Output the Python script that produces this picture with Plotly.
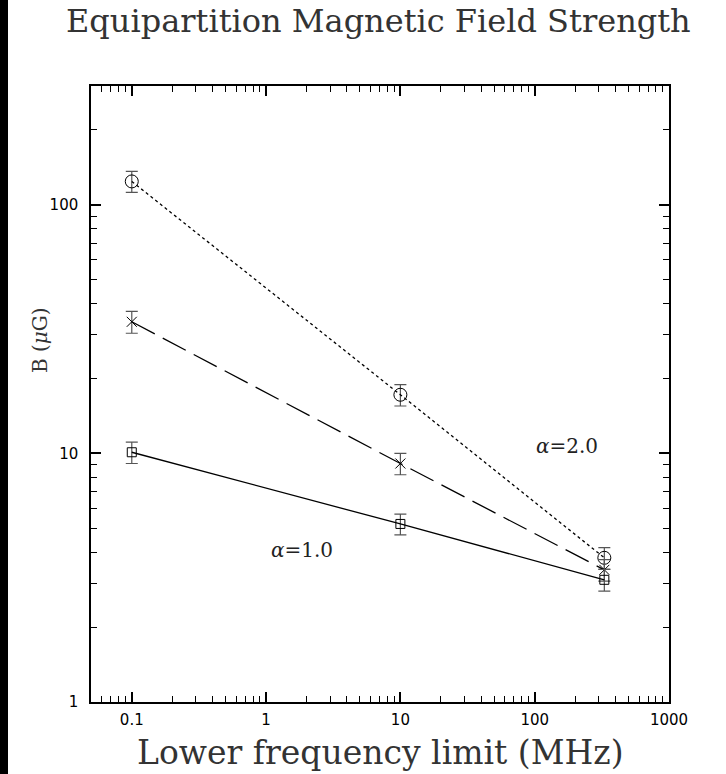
import plotly.graph_objects as go
import numpy as np

freq = [0.1, 10, 330]
b_alpha20 = [124, 17.2, 3.8]
err_alpha20 = [12, 1.7, 0.38]
b_alpha15 = [33.8, 9.1, 3.4]
err_alpha15 = [3.4, 0.9, 0.34]
b_alpha10 = [10.1, 5.2, 3.1]
err_alpha10 = [1.0, 0.5, 0.31]

xtickvals = [0.1, 1, 10, 100, 1000]
xticktext = ["0.1", "1", "10", "100", "1000"]
ytickvals = [1, 10, 100]
yticktext = ["1", "10", "100"]
xminor = [m * 10.0 ** e for e in range(-2, 3) for m in range(2, 10)]
yminor = [m * 10.0 ** e for e in range(0, 3) for m in range(2, 10)]

W, H = 726, 774
L, R, T, B = 91, 57, 86, 72
pw, ph = W - L - R, H - T - B

fig = go.Figure()

def add_series(y, err, dash, symbol, size):
    fig.add_trace(go.Scatter(
        x=freq, y=y, mode="lines+markers",
        line=dict(color="black", width=1.3, dash=dash),
        marker=dict(symbol=symbol, size=size, color="black",
                    line=dict(color="black", width=1)),
        error_y=dict(type="data", array=err, visible=True,
                     color="#555555", thickness=1.2, width=6),
        showlegend=False))

add_series(b_alpha20, err_alpha20, "dot", "circle-open", 13)
add_series(b_alpha15, err_alpha15, "26px,9px", "x-thin-open", 10)
add_series(b_alpha10, err_alpha10, "solid", "square-open", 9)

def axis_common(minor_vals):
    return dict(
        type="log", showgrid=False, zeroline=False,
        showline=True, linecolor="black", linewidth=1.5,
        mirror="allticks", ticks="inside", ticklen=10, tickwidth=1.5,
        tickcolor="black",
        tickfont=dict(family="DejaVu Sans", size=15, color="black"),
        minor=dict(ticks="inside", ticklen=6, tickwidth=1.2, tickcolor="black",
                   showgrid=False, tickvals=minor_vals),
    )

fig.update_xaxes(range=[np.log10(0.0497), 3], tickvals=xtickvals,
                 ticktext=xticktext, ticklabelstandoff=3, **axis_common(xminor))
fig.update_yaxes(range=[0, np.log10(300)], tickvals=ytickvals,
                 ticktext=yticktext, ticklabelstandoff=8, **axis_common(yminor))

serif = "DejaVu Serif"
annotations = [
    dict(text="<i>α</i>=2.0", x=np.log10(175), y=np.log10(10.7), xref="x", yref="y",
         showarrow=False, font=dict(family=serif, size=20, color="#222222")),
    dict(text="<i>α</i>=1.0", x=np.log10(1.86), y=np.log10(4.1), xref="x", yref="y",
         showarrow=False, font=dict(family=serif, size=20, color="#222222")),
    dict(text="Equipartition Magnetic Field Strength",
         x=(378.5 - L) / pw, y=1 + (T - 21) / ph, xref="paper", yref="paper",
         showarrow=False, xanchor="center", yanchor="middle",
         font=dict(family=serif, size=32, color="#333333")),
    dict(text="Lower frequency limit (MHz)",
         x=(380 - L) / pw, y=-(752 - (T + ph)) / ph, xref="paper", yref="paper",
         showarrow=False, xanchor="center", yanchor="middle",
         font=dict(family=serif, size=33, color="#333333")),
    dict(text="B (<i>μ</i>G)", textangle=-90,
         x=-(L - 40) / pw, y=1 - (340 - T) / ph, xref="paper", yref="paper",
         showarrow=False, xanchor="center", yanchor="middle",
         font=dict(family=serif, size=20, color="#333333")),
]

shapes = [
    dict(type="rect", xref="paper", yref="paper",
         x0=-L / pw, x1=-(L - 8) / pw, y0=-B / ph - 0.01, y1=1 + T / ph + 0.01,
         fillcolor="black", line=dict(width=0), layer="below"),
]

fig.update_layout(
    width=W, height=H,
    margin=dict(l=L, r=R, t=T, b=B),
    paper_bgcolor="white", plot_bgcolor="white",
    annotations=annotations, shapes=shapes,
)

fig.write_html("out.html", config={"displayModeBar": False},
               post_script="document.body.style.margin='0px';document.body.style.padding='0px';")
